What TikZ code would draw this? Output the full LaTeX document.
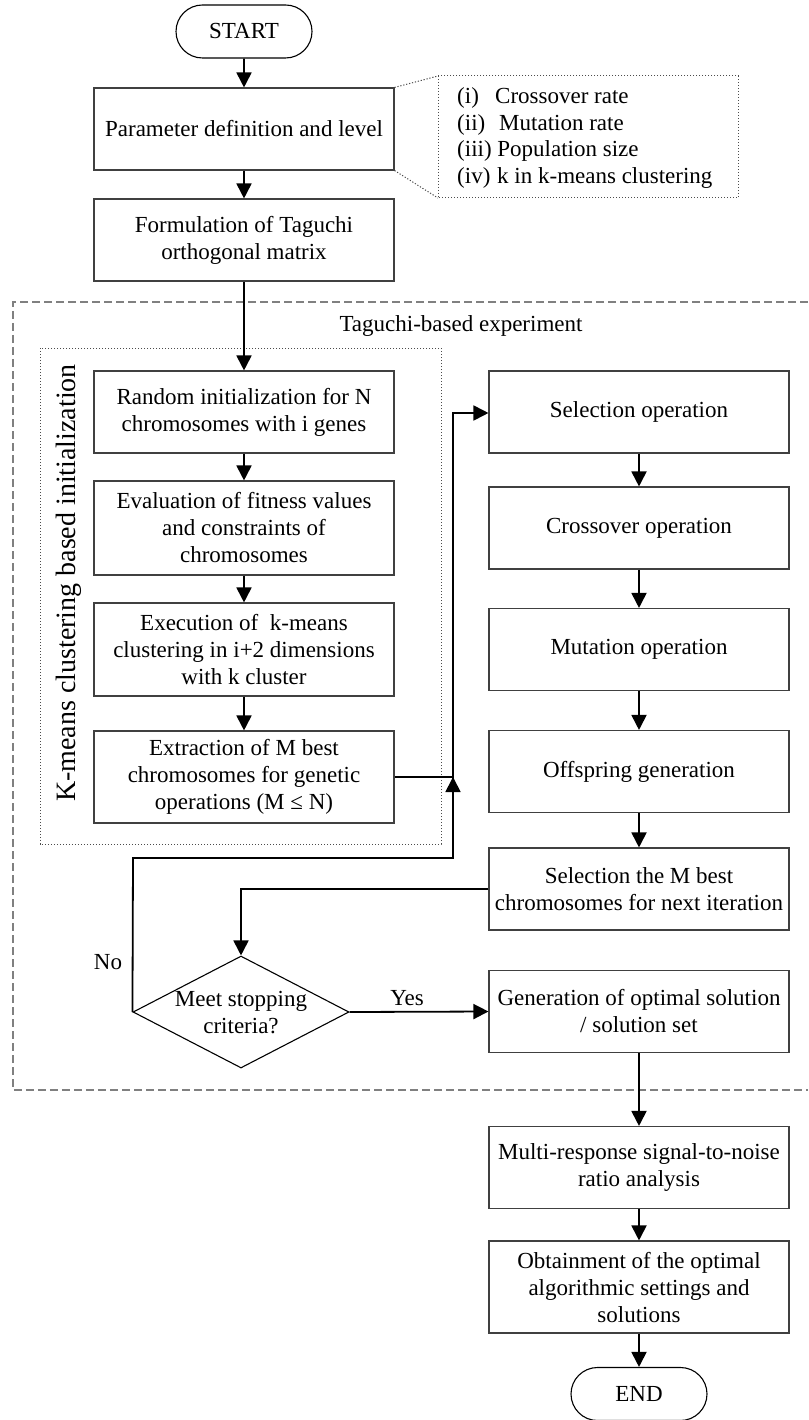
\documentclass[tikz,border=0pt]{standalone}
\usepackage{fontspec}
\setmainfont{Liberation Serif}
\usetikzlibrary{shapes.geometric,shapes.misc,arrows.meta}

\begin{document}
\begin{tikzpicture}[x=1pt,y=-1pt,
  every node/.style={font=\fontsize{23}{27}\selectfont},
  box/.style={draw=black!75, line width=1.1pt, rectangle, minimum width=300pt,
    inner sep=0pt, align=center},
  term/.style={draw=black, line width=1.1pt, rounded rectangle,
    minimum width=136pt, minimum height=53pt, inner sep=0pt},
  conn/.style={draw=black, line width=1.8pt, -{Triangle[length=15pt,width=15pt]}},
  plain/.style={draw=black, line width=1.8pt},
  groupdash/.style={draw=black!50, line width=1.5pt, dash pattern=on 8pt off 4pt},
  groupdot/.style={draw=black!70, line width=1pt, dash pattern=on 1.2pt off 1.8pt},
]
\useasboundingbox (0,0) rectangle (808,1420);

% group frames
\draw[groupdash] (808,302) -- (13,302) -- (13,1090) -- (808,1090);
\draw[groupdot] (40,348) rectangle (441,844);
\node (tagl) at (461,326) {Taguchi-based experiment};
\node[rotate=90, font=\fontsize{28}{32}\selectfont] (kml) at (69,583)
  {K-means clustering based initialization};

% main column
\node[term] (start) at (244,31.5) {START};
\node[box, minimum height=82pt] (par) at (244,129) {Parameter definition and level};
\node[box, minimum height=82pt] (form) at (244,240) {Formulation of Taguchi\\orthogonal matrix};

% parameter list
\draw[groupdot] (438,76) rectangle (738,198);
\coordinate (lstA) at (438,76);
\coordinate (lstB) at (438,198);
\draw[groupdot] (par.north east) -- (lstA);
\draw[groupdot] (par.south east) -- (lstB);
\node[anchor=west, align=left, inner sep=0pt,
  font=\fontsize{23}{26.7}\selectfont] (plist) at (457,138)
  {\makebox[38pt][l]{(i)}Crossover rate\\
   \makebox[42pt][l]{(ii)}Mutation rate\\
   (iii) Population size\\
   \makebox[40pt][l]{(iv)}k in k-means clustering};

% initialization steps
\node[box, minimum height=82pt] (rnd) at (244,412) {Random initialization for N\\chromosomes with i genes};
\node[box, minimum height=94pt] (evl) at (244,528) {Evaluation of fitness values\\and constraints of\\chromosomes};
\node[box, minimum height=93pt] (exe) at (244,649.5) {Execution of\ \ k-means\\clustering in i+2 dimensions\\with k cluster};
\node[box, minimum height=92pt] (ext) at (244,777) {Extraction of M best\\chromosomes for genetic\\operations (M ≤ N)};

% genetic operations
\node[box, minimum height=82pt] (sel) at (639,412) {Selection operation};
\node[box, minimum height=82pt] (crs) at (639,528) {Crossover operation};
\node[box, minimum height=82pt] (mut) at (639,649.5) {Mutation operation};
\node[box, minimum height=82pt] (off) at (639,771.5) {Offspring generation};
\node[box, minimum height=82pt] (selm) at (639,889) {Selection the M best\\chromosomes for next iteration};
\node[box, minimum height=82pt] (gen) at (639,1011.5) {Generation of optimal solution\\/ solution set};

% decision
\node[diamond, draw=black, line width=1.1pt, aspect=1.93, minimum width=216pt,
  minimum height=112pt, inner sep=0pt] (dec) at (241,1012) {};
\node[align=center] (dect) at (241,1013) {Meet stopping\\criteria?};
\node (yes) at (407,998) {Yes};
\node (no) at (108,962) {No};

% analysis
\node[box, minimum height=82pt] (msn) at (639,1167.5) {Multi-response signal-to-noise\\ratio analysis};
\node[box, minimum height=92pt] (obt) at (639,1287) {Obtainment of the optimal\\algorithmic settings and\\solutions};
\node[term] (fin) at (639,1394) {END};

% connectors
\draw[conn] (start) -- (par);
\draw[conn] (par) -- (form);
\draw[conn] (form) -- (rnd);
\draw[conn] (rnd) -- (evl);
\draw[conn] (evl) -- (exe);
\draw[conn] (exe) -- (ext);
\draw[conn] (sel) -- (crs);
\draw[conn] (crs) -- (mut);
\draw[conn] (mut) -- (off);
\draw[conn] (off) -- (selm);
\draw[conn] (selm.west) -| (dec.north);
\draw[conn] (dec.east) -- (gen.west);
\draw[conn] (gen) -- (msn);
\draw[conn] (msn) -- (obt);
\draw[conn] (obt) -- (fin);

% loop back to selection
\coordinate (lpA) at (133,858);
\coordinate (lpB) at (453,858);
\coordinate (lpC) at (453,413);
\coordinate (mrg) at (453,777);
\coordinate (mrgB) at (453,800);
\draw[conn] (dec.west) -- (lpA) -- (lpB) -- (lpC) -- (sel.west |- lpC);
\draw[plain] (ext.east) -- (mrg);
\draw[conn] (mrgB) -- (mrg);
\end{tikzpicture}
\end{document}
